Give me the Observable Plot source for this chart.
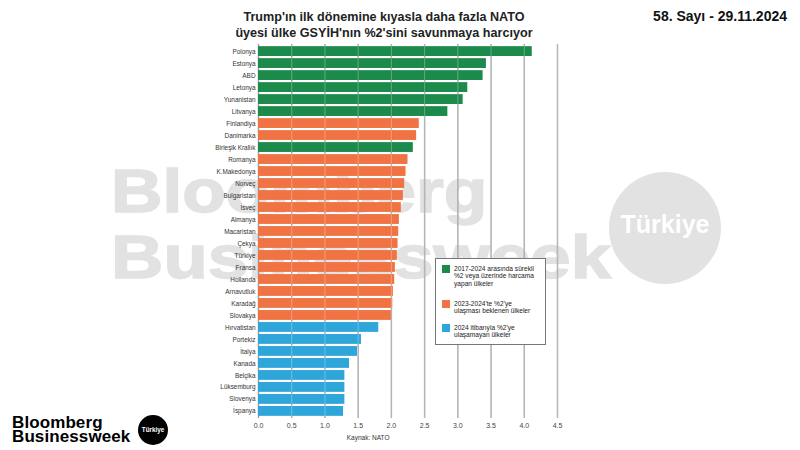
<!DOCTYPE html>
<html>
<head>
<meta charset="utf-8">
<script src="https://cdn.jsdelivr.net/npm/d3@7"></script>
<script src="https://cdn.jsdelivr.net/npm/@observablehq/plot@0.6"></script>
<style>
  html, body { margin: 0; padding: 0; background: #fff; }
  body { width: 800px; height: 450px; position: relative; overflow: hidden; font-family: "Liberation Sans", Arial, sans-serif; }
  .wm { position: absolute; color: #e2e2e2; font-weight: bold; font-family: "Liberation Sans", Arial, sans-serif; line-height: 1; white-space: nowrap; transform-origin: 0 0; -webkit-text-stroke: 1.5px #e2e2e2; }
  #chart { position: absolute; left: 0; top: 0; }
  .title { position: absolute; left: 184px; width: 400px; top: 9px; text-align: center; font-weight: bold; font-size: 12.6px; line-height: 16px; color: #222; }
  .issue { position: absolute; right: 13px; top: 8px; font-weight: bold; font-size: 14px; color: #111; }
  .logo { position: absolute; left: 12px; top: 416px; font-weight: bold; font-size: 17px; line-height: 14px; color: #000; letter-spacing: 0.1px; }
  .logoc { position: absolute; left: 138px; top: 415px; width: 30px; height: 30px; border-radius: 50%; background: #000; color: #fff; font-size: 6.3px; font-weight: bold; text-align: center; line-height: 30px; }
  .legend { position: absolute; left: 435px; top: 258px; width: 109px; height: 85px; background: #fff; border: 1px solid #777; font-size: 6.6px; color: #1a1a1a; line-height: 7.6px; }
  .li { position: absolute; left: 6px; }
  .sw { position: absolute; left: 0; top: 0; width: 8px; height: 8px; }
  .lt { position: absolute; left: 12px; top: -0.5px; width: 84px; }
</style>
</head>
<body>
<div class="wm" style="left:111px; top:160px; font-size:62px; transform:scaleX(1.15);">Bloomberg</div>
<div class="wm" style="left:111px; top:226px; font-size:62px; transform:scaleX(1.17);">Businessweek</div>
<div style="position:absolute; left:609px; top:172px; width:112px; height:112px; border-radius:50%; background:#e2e2e2;"></div>
<div style="position:absolute; left:609px; top:212px; width:112px; text-align:center; color:#fff; font-weight:bold; font-size:25px; line-height:1;">Türkiye</div>
<div id="chart"></div>
<div class="title">Trump'ın ilk dönemine kıyasla daha fazla NATO<br>üyesi ülke GSYİH'nın %2'sini savunmaya harcıyor</div>
<div class="issue">58. Sayı - 29.11.2024</div>
<div class="logo">Bloomberg<br>Businessweek</div>
<div class="logoc">Türkiye</div>
<div class="legend" id="legend"></div>
<script>
const countries = ["Polonya","Estonya","ABD","Letonya","Yunanistan","Litvanya","Finlandiya","Danimarka","Birleşik Krallık","Romanya","K.Makedonya","Norveç","Bulgaristan","İsveç","Almanya","Macaristan","Çekya","Türkiye","Fransa","Hollanda","Arnavutluk","Karadağ","Slovakya","Hırvatistan","Portekiz","İtalya","Kanada","Belçika","Lüksemburg","Slovenya","İspanya"];
const values = [4.12,3.43,3.38,3.15,3.08,2.85,2.42,2.38,2.33,2.25,2.22,2.20,2.18,2.15,2.12,2.11,2.10,2.09,2.06,2.05,2.03,2.02,2.00,1.81,1.55,1.49,1.37,1.30,1.30,1.30,1.28];
const groups = ["g","g","g","g","g","g","o","o","g","o","o","o","o","o","o","o","o","o","o","o","o","o","o","b","b","b","b","b","b","b","b"];
const groupKeys = ["g","o","b"];
const groupLabels = ["2017-2024 arasında sürekli<br>%2 veya üzerinde harcama<br>yapan ülkeler","2023-2024'te %2'ye<br>ulaşması beklenen ülkeler","2024 itibarıyla %2'ye<br>ulaşamayan ülkeler"];
const groupColors = ["#1b8a4b","#f07343","#2ea6d9"];
const xTicks = [0,0.5,1,1.5,2,2.5,3,3.5,4,4.5];
const source = "Kaynak: NATO";

const data = countries.map((c,i)=>({country:c, value:values[i], group:groups[i]}));

const chart = Plot.plot({
  width: 800,
  height: 450,
  marginLeft: 258,
  marginRight: 243,
  marginTop: 44,
  marginBottom: 32,
  style: {background: "transparent", fontFamily: "Liberation Sans, Arial, sans-serif"},
  x: {domain: [0,4.5], ticks: xTicks, tickFormat: d3.format(".1f"), label: null},
  y: {domain: countries, padding: 0.18, label: null},
  color: {domain: groupKeys, range: groupColors},
  marks: [
    Plot.gridX(xTicks, {stroke: "#9a9a9a", strokeOpacity: 1, strokeWidth: 1.4}),
    Plot.barX(data, {x: "value", y: "country", fill: "group"}),
    Plot.gridX(xTicks.slice(1), {stroke: "#ffffff", strokeOpacity: 0.3, strokeWidth: 1}),
    Plot.axisX({ticks: xTicks, tickFormat: d3.format(".1f"), tickSize: 0, tickPadding: 5, fontSize: 7, fill: "#444", label: null}),
    Plot.axisY({tickSize: 0, tickPadding: 3, fontSize: 6.4, fill: "#333", label: null}),
    Plot.text([source], {frameAnchor: "bottom", dy: 21, fontSize: 6.5, fill: "#333", x: 1.65})
  ]
});
document.getElementById("chart").appendChild(chart);

const leg = document.getElementById("legend");
const tops = [6, 41, 65];
groupKeys.forEach((k,i)=>{
  const d = document.createElement("div");
  d.className = "li";
  d.style.top = tops[i] + "px";
  d.innerHTML = `<div class="sw" style="background:${groupColors[i]}"></div><div class="lt">${groupLabels[i]}</div>`;
  leg.appendChild(d);
});
</script>
</body>
</html>
